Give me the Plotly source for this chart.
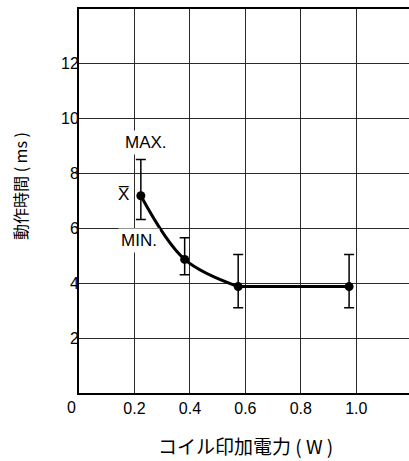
import plotly.graph_objects as go

# Data
power_w = [0.223, 0.381, 0.574, 0.974]
time_mean = [7.19, 4.87, 3.88, 3.88]
time_max = [8.51, 5.66, 5.05, 5.05]
time_min = [6.33, 4.31, 3.11, 3.11]

x_tick_vals = [0.2, 0.4, 0.6, 0.8, 1.0]
x_tick_text = ["0.2", "0.4", "0.6", "0.8", "1.0"]
y_tick_vals = [2, 4, 6, 8, 10, 12]
y_tick_text = ["2", "4", "6", "8", "10", "12"]

err_plus = [mx - m for mx, m in zip(time_max, time_mean)]
err_minus = [m - mn for m, mn in zip(time_mean, time_min)]

LAT = "Liberation Sans, Arial, sans-serif"
CJK = "Noto Sans CJK JP, sans-serif"
NB = "\u00a0"

fig = go.Figure()

# smooth curve through first three points
fig.add_trace(go.Scatter(
    x=power_w[:3], y=time_mean[:3], mode="lines",
    line=dict(color="black", width=3, shape="spline", smoothing=1.0),
    hoverinfo="skip", showlegend=False))
# straight segment
fig.add_trace(go.Scatter(
    x=power_w[2:], y=time_mean[2:], mode="lines",
    line=dict(color="black", width=3),
    hoverinfo="skip", showlegend=False))
# markers with error bars
fig.add_trace(go.Scatter(
    x=power_w, y=time_mean, mode="markers",
    marker=dict(color="black", size=9),
    error_y=dict(type="data", array=err_plus, arrayminus=err_minus,
                 symmetric=False, color="black", thickness=1.5, width=5),
    showlegend=False))

fig.update_layout(
    width=409, height=461,
    margin=dict(l=79, r=0, t=9, b=68),
    paper_bgcolor="white", plot_bgcolor="white",
    font=dict(family=LAT, size=16, color="black"),
    xaxis=dict(range=[0, 1.19], tickvals=x_tick_vals, ticktext=x_tick_text,
               showgrid=True, gridcolor="#2a2a2a", gridwidth=1,
               showline=True, linecolor="black", linewidth=2, mirror=True,
               ticks="", zeroline=False, fixedrange=True,
               tickfont=dict(family=LAT, size=16, color="black")),
    yaxis=dict(range=[0, 14], tickvals=y_tick_vals, ticktext=y_tick_text,
               showgrid=True, gridcolor="#2a2a2a", gridwidth=1,
               showline=True, linecolor="black", linewidth=2,
               ticks="", zeroline=False, fixedrange=True,
               ticklabelstandoff=-5,
               tickfont=dict(family=LAT, size=16, color="black")),
    annotations=[
        dict(text="0", xref="paper", yref="paper", x=-0.024, y=0,
             xanchor="center", yanchor="top", yshift=-4, showarrow=False,
             font=dict(family=LAT, size=16, color="black")),
        dict(text="MAX.", xref="x", yref="y", x=0.240, y=9.15,
             xanchor="center", yanchor="middle", showarrow=False,
             bgcolor="white", borderpad=2,
             font=dict(family=LAT, size=17, color="black")),
        dict(text="MIN.", xref="x", yref="y", x=0.217, y=5.57,
             xanchor="center", yanchor="middle", showarrow=False,
             bgcolor="white", borderpad=2,
             font=dict(family=LAT, size=17, color="black")),
        dict(text="X\u0305", xref="x", yref="y", x=0.159, y=7.25,
             xanchor="center", yanchor="middle", showarrow=False,
             font=dict(family=LAT, size=17, color="black")),
        dict(text="コイル印加電力" + NB + "(" + NB + "W" + NB + ")",
             xref="paper", yref="paper",
             x=0.506, y=-0.137, xanchor="center", yanchor="middle",
             showarrow=False, font=dict(family=CJK, size=19, color="black")),
        dict(text="動作時間" + NB + "(" + NB + "ms" + NB + ")",
             xref="paper", yref="paper",
             x=-0.179, y=0.539, xanchor="center", yanchor="middle",
             textangle=-90, showarrow=False,
             font=dict(family=CJK, size=16, color="black")),
    ],
)

fig.write_html("out.html")
